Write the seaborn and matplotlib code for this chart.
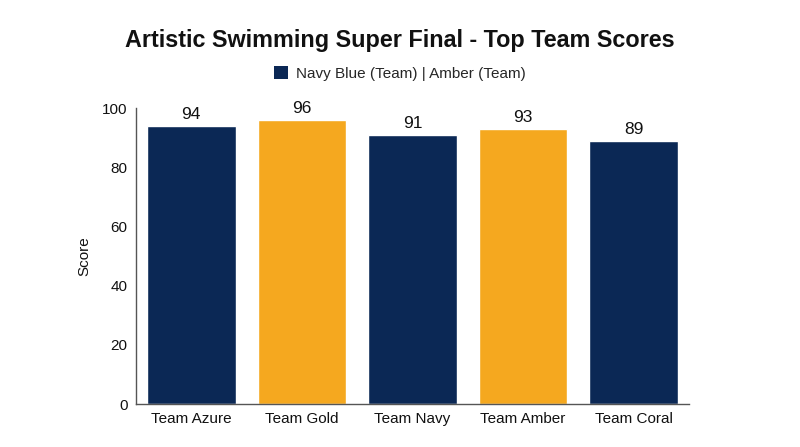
import matplotlib
matplotlib.use("Agg")
import matplotlib.pyplot as plt
import seaborn as sns
import pandas as pd
from matplotlib.patches import Patch

teams = ["Team Azure", "Team Gold", "Team Navy", "Team Amber", "Team Coral"]
scores = [94, 96, 91, 93, 89]
bar_colors = ["#0B2855", "#F5A81F", "#0B2855", "#F5A81F", "#0B2855"]
y_ticks = [0, 20, 40, 60, 80, 100]
title = "Artistic Swimming Super Final - Top Team Scores"
legend_label = "Navy Blue (Team) | Amber (Team)"

sns.set_theme(style="white")
plt.rcParams['font.family'] = ['Liberation Sans', 'DejaVu Sans']

df = pd.DataFrame({"Team": teams, "Score": scores})

fig = plt.figure(figsize=(8, 4.47), dpi=100)
ax = fig.add_axes([0.17, 0.096, 0.691, 0.662])

sns.barplot(data=df, x="Team", y="Score", hue="Team", palette=bar_colors,
            legend=False, width=0.8, ax=ax, saturation=1)

for p, v in zip(ax.patches, scores):
    ax.text(p.get_x() + p.get_width() / 2, p.get_height() + 1.2, f"{v}",
            ha="center", va="bottom", fontsize=12.5, color="#111111")

ax.set_ylim(0, 100)
ax.set_xlim(-0.5, 4.5)
ax.set_yticks(y_ticks)
ax.set_xlabel("")
ax.set_ylabel("Score", fontsize=11, color="#111111", labelpad=8)
ax.tick_params(axis="both", labelsize=11, colors="#111111", length=0, pad=6)
for s in ["top", "right"]:
    ax.spines[s].set_visible(False)
for s in ["left", "bottom"]:
    ax.spines[s].set_color("#555555")
    ax.spines[s].set_linewidth(1.0)

fig.text(0.5, 0.91, title, ha="center", va="center", fontsize=16.8,
         fontweight="bold", color="#111111")
fig.legend(handles=[Patch(facecolor="#0B2855", edgecolor="none", label=legend_label)],
           loc="center", bbox_to_anchor=(0.5, 0.835), frameon=False, fontsize=11,
           handlelength=0.9, handleheight=0.9, handletextpad=0.5)

fig.savefig("out.png", dpi=100, facecolor="white")
